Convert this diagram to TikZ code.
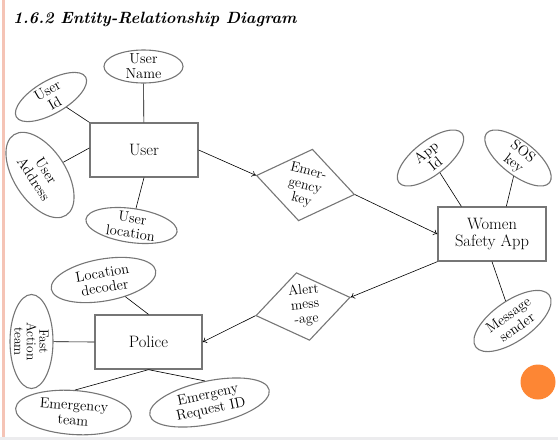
\documentclass[tikz,border=0pt]{standalone}
\usetikzlibrary{shapes.geometric,arrows.meta}
\definecolor{shapegray}{RGB}{118,118,118}
\definecolor{pinkline}{RGB}{245,196,182}
\definecolor{bandgray}{RGB}{236,236,238}
\definecolor{dotorange}{RGB}{253,134,52}
\newcommand\attrfont{\fontsize{14.5}{15}\selectfont}
\newcommand\entfont{\fontsize{16.5}{17.5}\selectfont}
\newcommand\relfont{\fontsize{14}{14.5}\selectfont}
\tikzset{
  attr/.style={ellipse, draw=shapegray, line width=1.1pt, inner sep=-6pt, align=center, font=\attrfont},
  ent/.style={rectangle, draw=shapegray, line width=1.3pt, minimum width=108pt, minimum height=54pt, inner sep=0pt, align=center, font=\entfont},
  rel/.style={diamond, draw=shapegray, line width=1.1pt, inner sep=0pt},
  reltext/.style={align=center, font=\relfont, inner sep=0pt},
  conn/.style={line width=0.6pt, black},
  arr/.style={conn, -{To[length=4pt,width=6pt]}}
}
\begin{document}
\begin{tikzpicture}[x=1pt,y=-1pt]
\useasboundingbox (0,0) rectangle (558,440);
\fill[pinkline] (2,0) rectangle (5,437);
\fill[bandgray] (0,437) rectangle (558,440);
\node[anchor=base west, inner sep=0pt, font=\fontsize{16.3}{18}\selectfont\bfseries\itshape] (title) at (13,23) {1.6.2 Entity-Relationship Diagram};

% entities
\node[ent] (user) at (144,150) {User};
\node[ent] (wsa) at (492,234) {Women\\Safety App};
\node[ent, minimum width=107pt] (police) at (148.5,342) {Police};

% relationships
\node[rel, minimum width=100pt, minimum height=73pt, rotate=-11] (ek) at (305.5,185) {};
\node[reltext, rotate=-14] (ektext) at (305,186) {Emer-\\gency\\key};
\node[rel, minimum width=96pt, minimum height=69pt, rotate=11] (alert) at (303,306.5) {};
\node[reltext, rotate=6] (alerttext) at (305,305) {Alert\\mess\\-age};

% user attributes
\node[attr, minimum width=79pt, minimum height=33pt] (uname) at (143.5,66.5) {User\\Name};
\node[attr, minimum width=80pt, minimum height=33pt, rotate=30] (uid) at (51,97) {User\\Id};
\node[attr, minimum width=96pt, minimum height=52pt, rotate=-57] (uaddr) at (40,175) {User\\Address};
\node[attr, minimum width=92pt, minimum height=34pt, rotate=-8] (uloc) at (131.5,225.5) {User\\location};

% app attributes
\node[attr, minimum width=80pt, minimum height=34pt, rotate=38] (appid) at (430.5,158) {App\\Id};
\node[attr, minimum width=80pt, minimum height=34pt, rotate=-38] (sos) at (518,158) {SOS\\key};
\node[attr, minimum width=90pt, minimum height=40pt, rotate=35] (msg) at (512.5,321) {Message\\sender};

% police attributes
\node[attr, minimum width=106pt, minimum height=42pt, rotate=10] (locdec) at (103.5,280) {Location\\decoder};
\node[attr, minimum width=94pt, minimum height=43pt, rotate=-90, font=\fontsize{13.5}{12.5}\selectfont] (fat) at (31.5,341.5) {Fast\\Action\\team};
\node[attr, minimum width=116pt, minimum height=44pt, rotate=-4] (eteam) at (73.5,412.5) {Emergency\\team};
\node[attr, minimum width=122pt, minimum height=43pt, rotate=12] (erid) at (209.5,402.5) {Emergeny\\Request ID};

\node[circle, fill=dotorange, minimum size=35pt, inner sep=0pt] (dot) at (538,382) {};

% connectors: user
\draw[conn] (uname) -- (user);
\draw[conn] (uid) -- (user.north west);
\draw[conn] (uaddr) -- ([yshift=2pt]user.west);
\draw[conn] (uloc) -- (user.south);
\draw[arr] (user.east) -- (ek.west);
\draw[arr] (ek.east) -- (wsa.west);
% app
\draw[conn] (appid) -- ([xshift=24pt]wsa.north west);
\draw[conn] (sos) -- ([xshift=69pt]wsa.north west);
\draw[conn] (msg) -- (wsa.south);
\draw[arr] (wsa.south west) -- (alert.east);
\draw[arr] (alert.west) -- (police.east);
% police
\draw[conn] (locdec) -- (police.north);
\draw[conn] (fat) -- (police.west);
\draw[conn] (eteam.north) -- (police.south);
\draw[conn] (erid.north) -- (police.south);
\end{tikzpicture}
\end{document}
